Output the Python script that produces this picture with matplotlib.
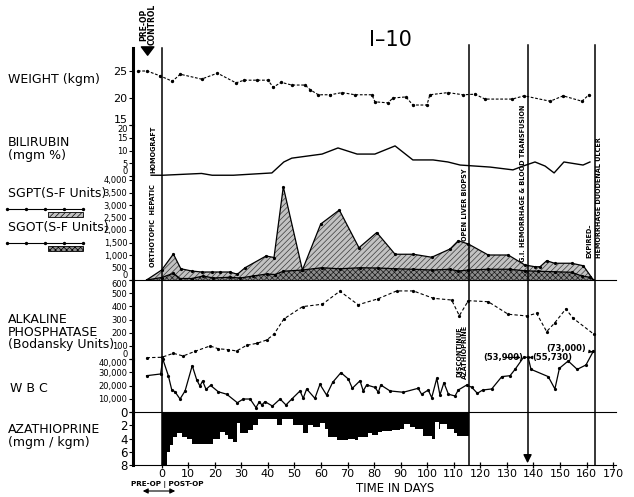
import numpy as np
import matplotlib.pyplot as plt
from matplotlib.lines import Line2D
from matplotlib.patches import Rectangle, FancyArrowPatch
from matplotlib.ticker import FuncFormatter

plt.rcParams['font.family'] = ['DejaVu Sans']
plt.rcParams['hatch.linewidth'] = 0.5

# ---- data (day, value) ----
weight_days = [-9, -5.5, -0.6, 4, 7, 15, 21, 28, 31, 36, 40, 42, 45, 49, 54, 56, 59,
               63.5, 67.9, 72.8, 79.2, 80.3, 85.2, 87.1, 92, 94.6, 99.9, 101, 107.8,
               113.5, 118, 121.8, 132, 136.5, 146.3, 151.2, 158.3, 160.9]
weight_kg = [25.0, 25.0, 24.1, 23.1, 24.4, 23.5, 24.6, 22.8, 23.3, 23.3, 23.3, 22.0, 22.9,
             22.4, 22.4, 21.5, 20.6, 20.6, 21.0, 20.6, 20.6, 19.3, 19.1, 20.0, 20.2, 18.7,
             18.7, 20.6, 21.0, 20.6, 20.7, 19.8, 19.8, 20.4, 19.4, 20.4, 19.4, 20.6]

bili_days = [-4, 0.5, 15, 19, 27, 35, 41.5, 46, 49, 60.4, 66.4, 73.6, 80.3, 87.9, 94.6,
             102.2, 107.8, 112.4, 123.7, 132.3, 136.1, 140.6, 144.4, 147.8, 151.5, 158.7, 161.3]
bili_mg = [0.3, 0.3, 1.0, 0.3, 0.3, 0.8, 1.2, 5.5, 7.0, 8.6, 11.0, 8.6, 8.6, 11.8, 6.3,
           6.3, 5.5, 4.3, 3.5, 2.4, 3.9, 5.5, 3.9, 1.2, 5.5, 4.3, 5.5]

sgpt_days = [-5.7, 0, 4.4, 7.2, 11.3, 15, 19, 22, 25.7, 28.5, 31.4, 39.3, 42.3, 45.8, 53,
             59.9, 66.9, 74.3, 81, 87.9, 94.8, 101.7, 108.6, 111.7, 115.5, 123, 130.5,
             136.8, 140.6, 142.5, 145, 148, 154.4, 158.8, 162.6]
sgpt_units = [0, 400, 1040, 450, 360, 320, 320, 320, 320, 230, 490, 960, 900, 3730, 400,
              2240, 2800, 1290, 1900, 1030, 1030, 910, 1240, 1570, 1440, 1000, 1000,
              600, 530, 530, 770, 670, 670, 570, 0]

sgot_days = [-5.7, 0, 4.4, 6.9, 11.3, 15.7, 19.4, 25.7, 29.5, 34.5, 39.5, 42.7, 45.8, 53,
             60.3, 67, 74.7, 81.6, 87.9, 94.8, 101.7, 108.6, 111.7, 115.5, 123, 131.2,
             136.8, 141.8, 148, 154.4, 158.2, 161.3, 162.6]
sgot_units = [0, 100, 270, 60, 60, 160, 80, 110, 80, 160, 240, 220, 350, 400,
              490, 450, 490, 480, 450, 430, 400, 430, 360, 400, 430, 430,
              370, 350, 330, 310, 160, 110, 0]

alk_days = [-5.7, 0, 4.4, 8.1, 12.5, 18.2, 21.3, 25.1, 28.2, 32, 35.8, 39.5, 42.3, 46,
            53.1, 60.5, 67.1, 74, 81.3, 88.5, 94.8, 102.3, 109.2, 112.1, 115.5, 123,
            130.5, 137.5, 141.2, 145, 148.1, 152.2, 155, 162.8]
alk_units = [10, 13, 43, 23, 58, 99, 78, 71, 61, 104, 119, 144, 188, 304,
             398, 416, 515, 412, 456, 517, 517, 461, 448, 329, 443, 435,
             340, 327, 347, 208, 276, 380, 309, 188]

wbc_days = [-5.7, -0.4, 0.4, 2.5, 3.8, 5.0, 6.9, 8.8, 11.5, 13.2, 14.4, 15.4, 16.7, 18.4,
            21.3, 24.5, 28.5, 30.7, 33.3, 35.5, 36.8, 37.7, 38.9, 41.7, 44.6, 46.8, 49.0,
            52.1, 53.3, 54.6, 57.7, 59.6, 62.1, 64.4, 67.5, 70.3, 71.8, 74.7, 75.9, 77.2,
            80.3, 81.6, 82.5, 86, 91, 96.6, 97.9, 100.4, 101.7, 103.6, 104.8, 106.3, 108,
            110.5, 111.7, 114.9, 116.8, 118.9, 120.9, 124.3, 128.1, 131.2, 133.1, 136.3,
            138.0, 139.1, 145.6, 148.1, 149.8, 153.1, 156.5, 159.8, 162.6]
wbc_count = [27400, 28700, 40000, 27400, 16600, 15300, 9800, 15900, 35000, 24200, 19600,
             23400, 17100, 20100, 15300, 13400, 7000, 9800, 9800, 3300, 7800, 5300, 7800,
             4500, 9800, 5300, 9800, 15900, 10300, 17400, 10300, 20900, 12800, 22400,
             29700, 24900, 17900, 23600, 15900, 20400, 18600, 14900, 20400, 15900, 14900,
             17900, 13400, 16600, 10800, 25400, 12800, 22100, 13400, 12100, 16600, 20400,
             18600, 14100, 16600, 17400, 26700, 27400, 32200, 53900, 55730, 32200, 26700,
             17400, 33000, 38500, 32200, 35500, 73000]
# off-scale counts are drawn pinned just above the top of the scale
wbc_offscale = {53900: 41300, 55730: 41300, 73000: 46000}

aza_days = [0, 1.9, 3.2, 4.4, 5.7, 7.5, 9.4, 11.3, 19.5, 22, 23.9, 25.1, 27, 28.5, 29.5,
            32.6, 34.5, 36.4, 43.3, 45.2, 49.6, 53.4, 55.2, 57.1, 59.6, 61.5, 62.8, 65.9,
            70.3, 72.8, 74.1, 77.8, 79.1, 81.6, 82.9, 86.7, 89.8, 91.1, 93.6, 95.5, 98.6,
            101.8, 103.1, 104.3, 105, 107.5, 110, 111.3, 115.7]
aza_dose = [8, 6, 5, 3.7, 3.2, 3.7, 4.0, 4.9, 4.0, 3.0, 3.5, 4.0, 4.5, 1.7, 3.2,
            2.7, 2.0, 1.0, 2.0, 1.0, 2.0, 3.2, 1.9, 2.2, 1.7, 2.5, 3.7, 4.3,
            4.0, 4.3, 3.7, 3.2, 3.5, 3.0, 2.9, 2.7, 2.5, 1.8, 2.2, 2.5, 3.6,
            4.0, 1.5, 2.5, 1.8, 2.5, 3.2, 3.6, 3.6]

event_days = [115.7, 137.8, 163.3]
x_ticks = list(range(0, 171, 10))

# ---- layout in pixels ----
W_PX, H_PX = 634, 497
X0_PX, DAY_PX = 161.7, 2.655
LEFT_PX = 133
XMIN = (LEFT_PX - X0_PX) / DAY_PX
XMAX = 171
AX_W = (X0_PX + XMAX * DAY_PX - LEFT_PX) / W_PX

fig = plt.figure(figsize=(W_PX / 100, H_PX / 100), dpi=100)


def add_panel(top, bottom):
    ax = fig.add_axes([LEFT_PX / W_PX, 1 - bottom / H_PX, AX_W, (bottom - top) / H_PX])
    ax.set_xlim(XMIN, XMAX)
    ax.patch.set_alpha(0)
    for s in ['top', 'right', 'bottom']:
        ax.spines[s].set_visible(False)
    ax.spines['left'].set_linewidth(2.2)
    ax.tick_params(axis='x', bottom=False, labelbottom=False)
    ax.tick_params(axis='y', direction='out', length=3, width=0.8, labelsize=6, pad=1)
    return ax


def tick_va(ax, idx, va):
    ax.yaxis.get_major_ticks()[idx].label1.set_va(va)


comma = FuncFormatter(lambda v, p: '{:,.0f}'.format(v))

# weight
ax_w = add_panel(48, 125)
ax_w.set_ylim(15, 15 + 77 / 5.4)
ax_w.set_yticks([15, 20, 25])
ax_w.tick_params(axis='y', labelsize=8)
tick_va(ax_w, 0, 'bottom')
ax_w.axhline(15, color='k', lw=0.7, ls=(0, (9, 5)))
ax_w.plot(weight_days, weight_kg, color='k', lw=0.8, ls=(0, (2.5, 1.5)), marker='o', ms=1.4)

# bilirubin
ax_b = add_panel(125, 176)
ax_b.set_ylim(0, 20)
ax_b.set_yticks([0, 5, 10, 15, 20])
tick_va(ax_b, 0, 'bottom')
tick_va(ax_b, 4, 'top')
ax_b.plot(bili_days, bili_mg, color='k', lw=1.0)

# SGPT / SGOT
ax_s = add_panel(176, 280)
ax_s.set_ylim(0, 4160)
ax_s.set_yticks(range(0, 4001, 500))
ax_s.yaxis.set_major_formatter(comma)
tick_va(ax_s, 0, 'bottom')
ax_s.spines['bottom'].set_visible(True)
ax_s.fill_between(sgpt_days, 0, sgpt_units, facecolor='#c2c2c2', edgecolor='#3a3a3a',
                  hatch='//////', lw=0)
ax_s.plot(sgpt_days, sgpt_units, color='k', lw=0.9, marker='o', ms=1.3)
ax_s.fill_between(sgot_days, 0, sgot_units, facecolor='#8c8c8c', edgecolor='#1a1a1a',
                  hatch='xxxxxx', lw=0)
ax_s.plot(sgot_days, sgot_units, color='k', lw=0.9, marker='o', ms=1.3)

# alkaline phosphatase
ax_a = add_panel(280, 359)
ax_a.set_ylim(0, 600)
ax_a.set_yticks(range(0, 601, 100))
tick_va(ax_a, 0, 'bottom')
tick_va(ax_a, 6, 'top')
ax_a.plot(alk_days, alk_units, color='k', lw=0.8, ls=(0, (3, 2)), marker='o', ms=1.3)

# WBC
ax_c = add_panel(359, 412)
ax_c.set_ylim(0, 40000)
ax_c.set_yticks(range(0, 40001, 10000))
ax_c.yaxis.set_major_formatter(comma)
ax_c.yaxis.get_major_ticks()[0].label1.set_visible(False)
tick_va(ax_c, 4, 'top')
wbc_shown = [wbc_offscale.get(v, v) for v in wbc_count]
ax_c.plot(wbc_days, wbc_shown, color='k', lw=0.9, marker='o', ms=1.3, clip_on=False)

# azathioprine
ax_z = add_panel(412, 465)
ax_z.set_ylim(8, 0)
ax_z.set_yticks([0, 2, 4, 6, 8])
ax_z.spines['top'].set_visible(True)
ax_z.spines['bottom'].set_visible(True)
ax_z.fill_between(aza_days, 0, aza_dose, step='post', color='k', lw=0)
ax_z.set_xticks(x_ticks)
ax_z.tick_params(axis='x', bottom=True, labelbottom=True, direction='inout', length=5,
                 width=0.9, labelsize=8, pad=0.5)
ax_z.tick_params(axis='y', labelsize=8.5)

# overlay in pixel y for event lines and notes
ov = fig.add_axes([LEFT_PX / W_PX, 0, AX_W, 1])
ov.set_xlim(XMIN, XMAX)
ov.set_ylim(H_PX, 0)
ov.axis('off')
ov.plot([0, 0], [48, 465], color='k', lw=1.1)
for d in event_days:
    ov.plot([d, d], [45, 465 if d != 137.8 else 458], color='k', lw=1.1)
ov.annotate('', xy=(137.8, 466), xytext=(137.8, 455),
            arrowprops=dict(arrowstyle='-|>,head_width=0.25,head_length=0.5', color='k', lw=1))
ov.annotate('', xy=(-5.3, 58), xytext=(-5.3, 49),
            arrowprops=dict(arrowstyle='simple,head_width=0.9,head_length=0.6,tail_width=0.45',
                            color='k'))

vt = dict(rotation=90, fontsize=4.7, fontweight='bold', ha='center', va='bottom')
ov.text(-5.3, 4, 'PRE-OP\nCONTROL', linespacing=0.95, rotation=90, fontsize=5.5,
        fontweight='bold', ha='center', va='top')
ov.text(-3.2, 173, 'HOMOGRAFT', **vt)
ov.text(-3.2, 267, 'ORTHOTOPIC  HEPATIC', **vt)
ov.text(114.3, 241, 'OPEN LIVER BIOPSY', **vt)
ov.text(135.9, 262, 'G.I. HEMORRHAGE & BLOOD TRANSFUSION', **vt)
ov.text(161.0, 258, 'EXPIRED\u2013', **vt)
ov.text(164.6, 258, 'HEMORRHAGE DUODENAL ULCER', **vt)
ov.text(113.2, 379, 'DISCONTINUE\nAZATHIOPRINE', linespacing=0.95, **vt)

nt = dict(fontsize=6, fontweight='bold', va='center', ha='center')
arr = dict(arrowstyle='-|>,head_width=0.15,head_length=0.3', color='k', lw=0.8)
ov.annotate('(53,900)', xy=(136.3, 357.5), xytext=(128.6, 357.5), arrowprops=arr, **nt)
ov.annotate('(55,730)', xy=(138.3, 357.5), xytext=(147.0, 357.5), arrowprops=arr, **nt)
ov.annotate('(73,000)', xy=(162.3, 352), xytext=(152.3, 348), arrowprops=arr, **nt)

ov.text(86, 40, 'I\u201310', fontsize=15, ha='center', va='center')
ov.text(88, 488, 'TIME IN DAYS', fontsize=8.5, ha='center', va='center')


# left-hand labels (figure pixels)
def ftext(x, y, s, **kw):
    fig.text(x / W_PX, 1 - y / H_PX, s, va='center', ha='left', **kw)


lab = dict(fontsize=9)
ftext(8, 80, 'WEIGHT (kgm)', **lab)
ftext(8, 149, 'BILIRUBIN\n(mgm %)', linespacing=0.95, **lab)
ftext(8, 193, 'SGPT(S-F Units)', **lab)
ftext(8, 227, 'SGOT(S-F Units)', **lab)
ftext(8, 332, 'ALKALINE\nPHOSPHATASE\n(Bodansky Units)', linespacing=0.95, **lab)
ftext(10, 388, 'W B C', **lab)
ftext(8, 436, 'AZATHIOPRINE\n(mgm / kgm)', linespacing=0.95, **lab)
ftext(131, 484.5, 'PRE-OP | POST-OP', fontsize=5.2, fontweight='bold')

# legend keys for SGPT / SGOT
for y_line, y_box, hatch, fc in [(209, 212, '//////', '#c2c2c2'), (243, 246, 'xxxxxx', '#8c8c8c')]:
    xs = np.array([7, 26, 45, 64, 83]) / W_PX
    fig.add_artist(Line2D(xs, [1 - y_line / H_PX] * 5, color='k', lw=0.8, marker='o', ms=1.4,
                          transform=fig.transFigure))
    fig.add_artist(Rectangle((48 / W_PX, 1 - (y_box + 5) / H_PX), 35 / W_PX, 5 / H_PX,
                             facecolor=fc, edgecolor='k', hatch=hatch, lw=0.6,
                             transform=fig.transFigure))

# pre-op / post-op double arrow
fig.add_artist(FancyArrowPatch((140 / W_PX, 1 - 491 / H_PX), (178 / W_PX, 1 - 491 / H_PX),
                               arrowstyle='<|-|>,head_width=1.5,head_length=3',
                               color='k', lw=0.8, transform=fig.transFigure))

fig.savefig('out.png', dpi=100)
